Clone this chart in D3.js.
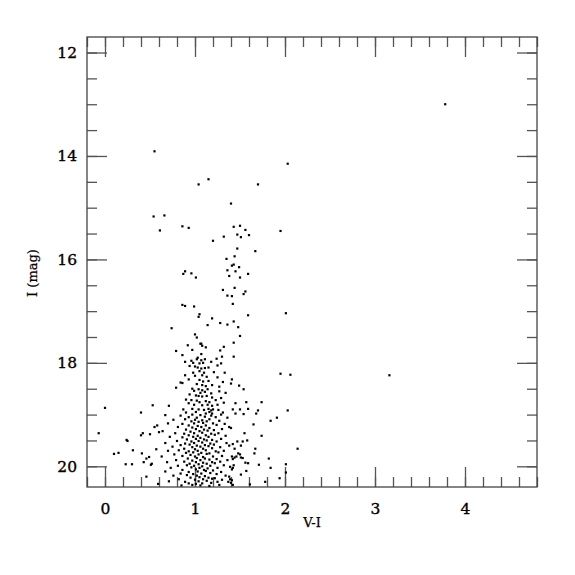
<!DOCTYPE html>
<html>
<head>
<meta charset="utf-8">
<script src="https://cdn.jsdelivr.net/npm/d3@7"></script>
<style>
  body { margin: 0; background: #fff; }
  .axis text { font-family: "DejaVu Serif", serif; font-size: 15.5px; fill: #000; stroke: #000; stroke-width: 0.35; }
  .axis path { display: none; }
  .axis line { stroke: #555; stroke-width: 1.3; }
  .label { font-family: "DejaVu Serif", serif; font-size: 13px; stroke: #000; stroke-width: 0.25; }
</style>
</head>
<body>
<svg id="cmd" width="575" height="575"></svg>
<script>
// stars as [V-I, I]
var brightStars = [
  [0.55, 13.91], [2.03, 14.15], [1.15, 14.45], [1.04, 14.55], [1.70, 14.55],
  [1.40, 14.92], [0.54, 15.17], [0.66, 15.15], [0.61, 15.44], [0.86, 15.36],
  [0.93, 15.39], [1.95, 15.45], [3.78, 13.00], [3.16, 18.24], [2.01, 17.04]
];

var giantBranch = [
  [1.43, 15.37], [1.50, 15.35], [1.56, 15.43], [1.32, 15.56], [1.47, 15.52],
  [1.51, 15.57], [1.60, 15.53], [1.20, 15.64], [1.47, 15.79], [1.67, 15.84],
  [1.44, 15.94], [1.35, 15.99], [1.43, 16.10], [1.41, 16.12], [1.49, 16.15],
  [1.36, 16.21], [1.45, 16.23], [1.59, 16.28], [1.38, 16.32], [1.50, 16.35],
  [1.31, 16.59], [1.44, 16.55], [1.56, 16.62], [1.54, 16.67], [1.36, 16.70],
  [1.41, 16.71], [1.42, 16.86], [1.59, 17.08], [1.43, 17.20], [1.28, 17.23],
  [1.36, 17.26], [1.14, 17.27], [1.48, 17.31], [1.19, 17.14], [1.50, 17.48],
  [1.43, 17.61]
];

var clumpStars = [
  [0.89, 16.23], [0.87, 16.28], [0.96, 16.27], [1.01, 16.35], [0.86, 16.88],
  [0.89, 16.90], [0.99, 16.91], [1.05, 17.06], [1.04, 17.11], [0.74, 17.33],
  [1.00, 17.45], [1.02, 17.51], [1.07, 17.63]
];

var redSideUpper = [
  [1.43, 17.88], [1.95, 18.21], [2.06, 18.23], [1.41, 18.32], [1.40, 18.40],
  [1.49, 18.44], [1.54, 18.51], [1.45, 18.78], [1.57, 18.76], [1.74, 18.76],
  [1.42, 18.90], [1.50, 18.90], [1.59, 18.89], [1.70, 18.92], [2.03, 18.92],
  [1.45, 18.98], [1.54, 18.99], [1.68, 18.98]
];

var blueSide = [
  [0.00, 18.87], [0.40, 18.96], [0.53, 18.82], [-0.07, 19.36], [0.24, 19.49],
  [0.25, 19.51], [0.40, 19.40], [0.42, 19.36], [0.50, 19.38], [0.55, 19.24],
  [0.58, 19.21], [0.60, 19.34], [0.57, 19.67], [0.31, 19.69], [0.10, 19.76],
  [0.15, 19.74], [0.41, 19.75], [0.49, 19.82], [0.46, 19.85], [0.43, 19.92],
  [0.52, 19.95], [0.51, 19.97], [0.23, 19.96], [0.30, 19.96], [0.46, 20.20],
  [0.59, 20.34]
];

var redSideLower = [
  [1.84, 19.12], [1.91, 19.06], [1.65, 19.19], [1.40, 19.26], [1.55, 19.36],
  [1.74, 19.41], [1.58, 19.50], [1.53, 19.52], [1.47, 19.52], [1.42, 19.57],
  [1.38, 19.60], [1.51, 19.60], [2.14, 19.66], [1.67, 19.66], [1.44, 19.66],
  [1.66, 19.75], [1.48, 19.75], [1.50, 19.77], [1.46, 19.81], [1.51, 19.83],
  [1.53, 19.84], [1.41, 19.81], [1.44, 19.83], [1.42, 19.86], [1.82, 19.85],
  [1.59, 19.94], [1.56, 19.93], [1.71, 19.97], [2.01, 19.96], [1.84, 20.03],
  [1.43, 19.98], [1.39, 20.01], [1.42, 20.03], [1.41, 20.06], [2.01, 20.12],
  [1.57, 20.09], [1.51, 20.16], [1.94, 20.23], [1.78, 20.30], [1.61, 20.35],
  [1.38, 20.20], [1.39, 20.25], [1.41, 20.27], [1.40, 20.32], [1.42, 20.36],
  [1.37, 20.30]
];

var coreUpper = [
  [1.06, 17.63], [1.08, 17.67], [0.92, 17.66], [1.12, 17.70], [0.97, 17.75],
  [0.79, 17.77], [1.28, 17.76], [0.86, 17.85], [1.07, 17.83], [1.32, 17.69],
  [1.03, 17.90], [1.02, 17.93], [0.96, 17.96], [1.07, 17.95], [1.11, 17.93],
  [1.24, 17.92], [1.30, 17.88], [0.89, 17.98], [0.98, 18.00], [1.05, 18.01],
  [1.09, 18.00], [1.18, 17.98], [1.29, 18.01], [1.25, 18.05], [0.94, 18.06],
  [1.00, 18.07], [1.03, 18.09], [1.07, 18.11], [1.11, 18.10], [1.15, 18.09],
  [0.98, 18.19], [1.05, 18.16], [1.10, 18.19], [1.21, 18.18], [1.33, 18.19],
  [0.89, 18.24], [1.00, 18.25], [1.08, 18.24], [1.13, 18.27], [1.25, 18.28],
  [0.93, 18.32], [1.05, 18.33], [1.09, 18.36], [1.15, 18.35], [1.31, 18.37],
  [0.84, 18.38], [0.86, 18.39], [1.02, 18.41], [1.08, 18.43], [1.12, 18.45],
  [1.19, 18.43], [1.27, 18.46], [0.79, 18.48], [0.97, 18.50], [1.04, 18.51],
  [1.08, 18.53], [1.14, 18.51], [0.99, 18.54], [1.06, 18.58], [1.11, 18.56],
  [1.18, 18.59], [1.27, 18.55], [1.34, 18.58], [0.94, 18.61], [1.01, 18.63],
  [1.04, 18.64], [1.08, 18.65], [1.13, 18.64], [1.19, 18.67], [1.29, 18.68],
  [0.90, 18.71], [0.96, 18.72], [1.02, 18.73], [1.05, 18.76], [1.12, 18.74],
  [1.16, 18.76], [1.23, 18.72], [1.32, 18.77], [0.93, 18.78], [0.99, 18.81],
  [1.08, 18.82], [1.14, 18.81], [1.19, 18.83], [1.25, 18.81], [0.71, 18.83],
  [0.87, 18.90], [0.97, 18.89], [1.04, 18.90], [1.10, 18.91], [1.15, 18.89],
  [1.18, 18.92], [1.20, 18.90], [1.26, 18.91], [0.90, 18.96], [1.01, 18.95],
  [1.12, 18.98], [1.16, 18.95], [1.19, 18.98], [1.31, 18.96]
];

var coreLower = [
  [0.67, 19.01], [0.84, 19.02], [0.97, 19.00], [1.06, 19.01], [1.18, 19.02], [1.29, 19.00],
  [0.93, 19.05], [1.02, 19.06], [1.11, 19.04], [1.23, 19.05], [1.36, 19.06],
  [0.76, 19.10], [0.89, 19.09], [1.00, 19.10], [1.08, 19.11], [1.16, 19.09],
  [0.96, 19.13], [1.04, 19.14], [1.13, 19.13], [1.27, 19.12],
  [0.70, 19.17], [0.86, 19.18], [0.99, 19.17], [1.09, 19.16], [1.20, 19.17], [1.33, 19.18],
  [0.93, 19.21], [1.03, 19.22], [1.12, 19.21], [1.24, 19.20],
  [0.81, 19.24], [0.97, 19.25], [1.07, 19.24], [1.16, 19.26], [1.38, 19.24],
  [0.90, 19.29], [1.01, 19.28], [1.10, 19.29], [1.21, 19.30], [1.30, 19.28],
  [0.64, 19.32], [0.95, 19.33], [1.05, 19.32], [1.14, 19.31],
  [0.78, 19.36], [0.88, 19.37], [0.99, 19.36], [1.08, 19.35], [1.18, 19.37], [1.26, 19.36],
  [0.93, 19.40], [1.03, 19.41], [1.12, 19.40], [1.22, 19.39], [1.34, 19.41],
  [0.72, 19.43], [0.86, 19.44], [0.98, 19.43], [1.06, 19.45], [1.15, 19.43],
  [0.91, 19.48], [1.01, 19.47], [1.10, 19.48], [1.19, 19.49], [1.29, 19.47],
  [0.80, 19.51], [0.96, 19.52], [1.04, 19.51], [1.13, 19.50], [1.24, 19.52],
  [0.67, 19.55], [0.89, 19.56], [0.99, 19.55], [1.08, 19.54], [1.17, 19.56], [1.35, 19.55],
  [0.84, 19.59], [0.94, 19.58], [1.02, 19.60], [1.11, 19.59], [1.21, 19.58],
  [0.75, 19.62], [0.97, 19.63], [1.06, 19.62], [1.15, 19.61], [1.28, 19.63],
  [0.88, 19.66], [1.00, 19.67], [1.09, 19.66], [1.19, 19.65],
  [0.70, 19.70], [0.82, 19.69], [0.93, 19.71], [1.03, 19.70], [1.12, 19.69], [1.23, 19.71], [1.32, 19.70],
  [0.90, 19.74], [0.98, 19.73], [1.07, 19.74], [1.16, 19.75], [1.26, 19.73],
  [0.77, 19.77], [0.95, 19.78], [1.04, 19.77], [1.13, 19.76],
  [0.63, 19.81], [0.86, 19.80], [1.00, 19.81], [1.09, 19.82], [1.20, 19.81], [1.30, 19.80],
  [0.92, 19.85], [1.02, 19.84], [1.11, 19.85], [1.24, 19.86],
  [0.79, 19.88], [0.97, 19.89], [1.06, 19.88], [1.16, 19.87], [1.36, 19.88],
  [0.69, 19.92], [0.88, 19.91], [1.01, 19.92], [1.09, 19.93], [1.19, 19.92], [1.28, 19.91],
  [0.94, 19.95], [1.04, 19.96], [1.13, 19.95], [1.22, 19.94],
  [0.81, 19.99], [0.91, 19.98], [0.99, 19.99], [1.08, 20.00], [1.17, 19.99], [1.32, 19.98],
  [0.73, 20.03], [0.96, 20.02], [1.05, 20.03], [1.14, 20.04], [1.25, 20.03],
  [0.86, 20.07], [1.01, 20.06], [1.10, 20.07], [1.20, 20.08],
  [0.67, 20.10], [0.93, 20.11], [1.03, 20.10], [1.12, 20.09], [1.29, 20.11],
  [0.84, 20.14], [0.98, 20.15], [1.07, 20.14], [1.17, 20.13], [1.24, 20.15],
  [0.76, 20.18], [0.91, 20.17], [1.02, 20.18], [1.11, 20.19], [1.34, 20.18],
  [0.95, 20.22], [1.05, 20.21], [1.15, 20.22], [1.22, 20.23],
  [0.82, 20.25], [1.00, 20.26], [1.09, 20.25], [1.19, 20.24], [1.30, 20.26],
  [0.71, 20.29], [0.89, 20.30], [1.04, 20.29], [1.13, 20.28], [1.25, 20.30],
  [0.93, 20.33], [1.01, 20.34], [1.08, 20.33], [1.18, 20.32],
  [0.85, 20.37], [0.97, 20.36], [1.06, 20.37], [1.16, 20.38], [1.27, 20.36]
];

var xMajor = [0, 1, 2, 3, 4];
var yMajor = [12, 14, 16, 18, 20];

var svg = d3.select("#cmd"),
  margin = { top: 37, right: 38, bottom: 88, left: 87 },
  width = +svg.attr("width") - margin.left - margin.right,
  height = +svg.attr("height") - margin.top - margin.bottom;

var x = d3.scaleLinear().domain([-0.2, 4.8]).range([0, width]),
  y = d3.scaleLinear().domain([11.7, 20.4]).range([0, height]);

var xMinor = d3.range(-0.2, 4.81, 0.2).map(function (d) { return +d.toFixed(1); });
var yMinor = d3.range(12, 20.41, 0.5);

var g = svg.append("g")
  .attr("transform", "translate(" + margin.left + "," + margin.top + ")");

// minor ticks
g.append("g").attr("class", "axis")
  .attr("transform", "translate(0," + height + ")")
  .call(d3.axisBottom(x).tickValues(xMinor).tickSize(-10).tickFormat(""));
g.append("g").attr("class", "axis")
  .call(d3.axisTop(x).tickValues(xMinor).tickSize(-10).tickFormat(""));
g.append("g").attr("class", "axis")
  .call(d3.axisLeft(y).tickValues(yMinor).tickSize(-10).tickFormat(""));
g.append("g").attr("class", "axis")
  .attr("transform", "translate(" + width + ",0)")
  .call(d3.axisRight(y).tickValues(yMinor).tickSize(-10).tickFormat(""));

// major ticks with labels
g.append("g").attr("class", "axis")
  .attr("transform", "translate(0," + height + ")")
  .call(d3.axisBottom(x).tickValues(xMajor).tickSize(-20).tickPadding(16).tickFormat(d3.format("d")));
g.append("g").attr("class", "axis")
  .call(d3.axisTop(x).tickValues(xMajor).tickSize(-20).tickFormat(""));
g.append("g").attr("class", "axis")
  .call(d3.axisLeft(y).tickValues(yMajor).tickSize(-20).tickPadding(10).tickFormat(d3.format("d")));
g.append("g").attr("class", "axis")
  .attr("transform", "translate(" + width + ",0)")
  .call(d3.axisRight(y).tickValues(yMajor).tickSize(-20).tickFormat(""));

g.append("rect")
  .attr("width", width)
  .attr("height", height)
  .attr("fill", "none")
  .attr("stroke", "#444")
  .attr("stroke-width", 1.3);

var stars = [].concat(brightStars, giantBranch, clumpStars, redSideUpper,
  blueSide, redSideLower, coreUpper, coreLower);

g.append("g")
  .selectAll("rect.star")
  .data(stars.filter(function (d) { return d[1] <= 20.4; }))
  .enter().append("rect")
  .attr("class", "star")
  .attr("x", function (d) { return x(d[0]) - 1.1; })
  .attr("y", function (d) { return y(d[1]) - 1.1; })
  .attr("width", 2.2)
  .attr("height", 2.2)
  .attr("fill", "#000");

svg.append("text")
  .attr("class", "label")
  .attr("x", margin.left + width / 2)
  .attr("y", 527)
  .attr("text-anchor", "middle")
  .text("V-I");

svg.append("text")
  .attr("class", "label")
  .attr("transform", "translate(37,273) rotate(-90)")
  .attr("text-anchor", "middle")
  .text("I (mag)");
</script>
</body>
</html>
